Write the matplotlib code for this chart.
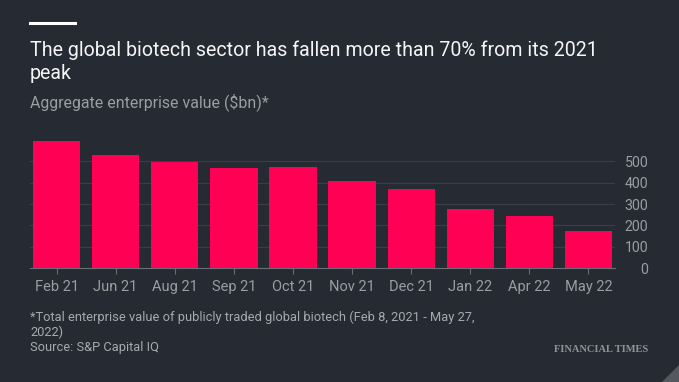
import matplotlib
matplotlib.use('Agg')
from matplotlib import pyplot as plt
from matplotlib.patches import Polygon

months = ['Feb 21', 'Jun 21', 'Aug 21', 'Sep 21', 'Oct 21',
          'Nov 21', 'Dec 21', 'Jan 22', 'Apr 22', 'May 22']
values = [597, 528, 498, 467, 475, 409, 372, 278, 244, 175]
yticks = [0, 100, 200, 300, 400, 500]

title = 'The global biotech sector has fallen more than 70% from its 2021\npeak'
subtitle = 'Aggregate enterprise value (\\$bn)*'
footnote = ('*Total enterprise value of publicly traded global biotech (Feb 8, 2021 - May 27,\n'
            '2022)\nSource: S&P Capital IQ')

bg = '#262a33'
bar_col = '#ff0055'
grid_col = '#3a3e47'
axis_col = '#6b6e74'
label_col = '#9b9da1'

W, H = 679, 382
plt.rcParams['font.family'] = ['Roboto', 'DejaVu Sans']

fig = plt.figure(figsize=(W / 100, H / 100), dpi=100, facecolor=bg)

# axes placed in pixel terms
left, right, base = 30, 615, 268
ymax = 630
top = base - ymax * 0.2133
ax = fig.add_axes([left / W, 1 - base / H, (right - left) / W, (base - top) / H])
ax.set_facecolor(bg)

x = range(len(months))
ax.bar(x, values, width=0.8, color=bar_col, zorder=3)
ax.set_xlim(-0.45, len(months) - 0.55)
ax.set_ylim(0, ymax)

ax.set_xticks(list(x))
ax.set_xticklabels(months)
ax.set_yticks(yticks)
ax.yaxis.tick_right()
for lab in ax.get_yticklabels():
    lab.set_ha('right')
ax.tick_params(axis='y', length=0, pad=24, labelsize=10.2, labelcolor=label_col)
ax.tick_params(axis='x', length=4.5, width=0.8, color=axis_col, pad=4,
               labelsize=10.5, labelcolor=label_col)
ax.grid(axis='y', color=grid_col, linewidth=0.8, zorder=0)
for s in ['top', 'left', 'right']:
    ax.spines[s].set_visible(False)
ax.spines['bottom'].set_color(axis_col)
ax.spines['bottom'].set_linewidth(0.8)
ax.spines['bottom'].set_zorder(4)

# header
fig.add_artist(plt.Line2D([30 / W, 75 / W], [1 - 23 / H, 1 - 23 / H],
                          color='white', linewidth=2.2))
fig.text(30 / W, 1 - 40 / H, title, color='#f5f5f5', fontsize=14.1,
         va='top', ha='left', linespacing=1.3)
fig.text(30 / W, 1 - 107 / H, subtitle, color=label_col, fontsize=11.4,
         va='baseline', ha='left')

# footer
fig.text(30 / W, 1 - 311 / H, footnote, color='#a7a9ad', fontsize=9.3,
         va='top', ha='left', linespacing=1.15)
fig.text(648 / W, 1 - 352 / H, 'FINANCIAL TIMES', color='#909296',
         fontsize=7.5, family='Liberation Serif', weight='bold',
         va='baseline', ha='right')

# corner mark
fig.add_artist(Polygon([[662 / W, 0], [1, 0], [1, 17 / H]], closed=True,
                       transform=fig.transFigure, color='#55585e'))

plt.savefig('out.png', dpi=100, facecolor=bg)
